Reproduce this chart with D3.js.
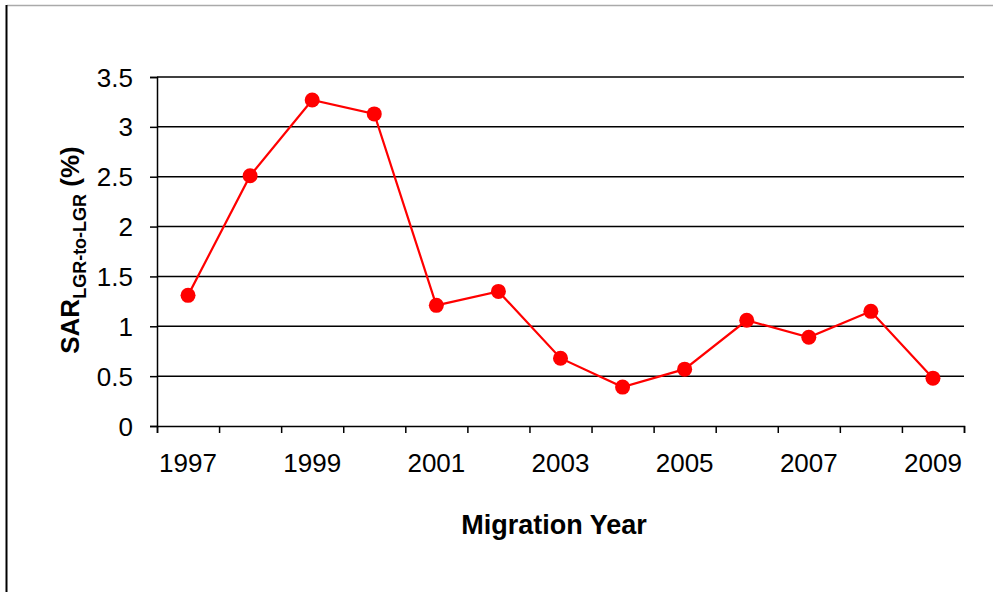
<!DOCTYPE html>
<html>
<head>
<meta charset="utf-8">
<script src="https://cdn.jsdelivr.net/npm/d3@7"></script>
<style>
  body { margin: 0; background: #fff; }
  svg { display: block; font-family: "Liberation Sans", Arial, sans-serif; }
  .axis text { font-size: 26px; fill: #000; }
  .axis path, .axis line { stroke: #000; stroke-width: 1.5; }
</style>
</head>
<body>
<script>
// data
const years = ["1997", "1998", "1999", "2000", "2001", "2002", "2003",
               "2004", "2005", "2006", "2007", "2008", "2009"];
const sarValues = [1.31, 2.51, 3.27, 3.13, 1.21, 1.35, 0.68,
                   0.39, 0.57, 1.06, 0.89, 1.15, 0.48];
const yTicks = [0, 0.5, 1, 1.5, 2, 2.5, 3, 3.5];

const W = 996, H = 592;
const plot = { left: 157, right: 964, top: 77, bottom: 426 };

const SVG = d3.select('body')
              .append('svg')
              .attr('width', W)
              .attr('height', H);

// frame lines of the original figure
SVG.append('line')
   .attr('x1', 7).attr('x2', 993).attr('y1', 5.5).attr('y2', 5.5)
   .attr('stroke', '#aaa').attr('stroke-width', 1.5);
SVG.append('line')
   .attr('x1', 6.5).attr('x2', 6.5).attr('y1', 5).attr('y2', H)
   .attr('stroke', '#000').attr('stroke-width', 2);

// scales
const xScale = d3.scaleBand()
                 .domain(years)
                 .range([plot.left, plot.right]);
const yScale = d3.scaleLinear()
                 .domain([0, 3.5])
                 .range([plot.bottom, plot.top]);

// gridlines
SVG.append('g')
   .selectAll('line')
   .data(yTicks.filter(d => d > 0))
   .enter()
   .append('line')
   .attr('x1', plot.left)
   .attr('x2', plot.right)
   .attr('y1', d => yScale(d))
   .attr('y2', d => yScale(d))
   .attr('stroke', '#000')
   .attr('stroke-width', 1.5);

// y-axis
const yAxis = d3.axisLeft(yScale)
                .tickValues(yTicks)
                .tickSize(7)
                .tickPadding(17)
                .tickFormat(d => d);
SVG.append('g')
   .attr('class', 'axis')
   .attr('transform', `translate(${plot.left},0)`)
   .call(yAxis)
   .call(g => g.selectAll('text').attr('dy', '0.35em'));

// x-axis: ticks on the category edges, labels on every other year
const edges = years.map(y => xScale(y)).concat([plot.right]);
const xEdge = d3.scaleLinear().domain([plot.left, plot.right]).range([plot.left, plot.right]);
const xAxis = d3.axisBottom(xEdge)
                .tickValues(edges)
                .tickSize(7)
                .tickFormat('');
SVG.append('g')
   .attr('class', 'axis')
   .attr('transform', `translate(0,${plot.bottom})`)
   .call(xAxis);

SVG.append('g')
   .selectAll('text')
   .data(years.filter((d, i) => i % 2 === 0))
   .enter()
   .append('text')
   .attr('x', d => xScale(d) + xScale.bandwidth() / 2)
   .attr('y', 472)
   .attr('text-anchor', 'middle')
   .style('font-size', '26px')
   .text(d => d);

// line + markers
const valueLine = d3.line()
                    .x((d, i) => xScale(years[i]) + xScale.bandwidth() / 2)
                    .y(d => yScale(d));

SVG.append('path')
   .datum(sarValues)
   .attr('d', valueLine)
   .attr('fill', 'none')
   .attr('stroke', '#ff0000')
   .attr('stroke-width', 2.2);

SVG.append('g')
   .selectAll('circle')
   .data(sarValues)
   .enter()
   .append('circle')
   .attr('cx', (d, i) => xScale(years[i]) + xScale.bandwidth() / 2)
   .attr('cy', d => yScale(d))
   .attr('r', 7.5)
   .attr('fill', '#ff0000');

// axis titles
SVG.append('text')
   .attr('x', 554)
   .attr('y', 534)
   .attr('text-anchor', 'middle')
   .style('font-size', '27px')
   .style('font-weight', 'bold')
   .text('Migration Year');

const yTitle = SVG.append('text')
   .attr('transform', `translate(79,250) rotate(-90)`)
   .attr('text-anchor', 'middle')
   .style('font-size', '26px')
   .style('font-weight', 'bold');
yTitle.append('tspan').text('SAR');
yTitle.append('tspan').attr('dy', 7).style('font-size', '18px').text('LGR-to-LGR');
yTitle.append('tspan').attr('dy', -7).text(' (%)');
</script>
</body>
</html>
